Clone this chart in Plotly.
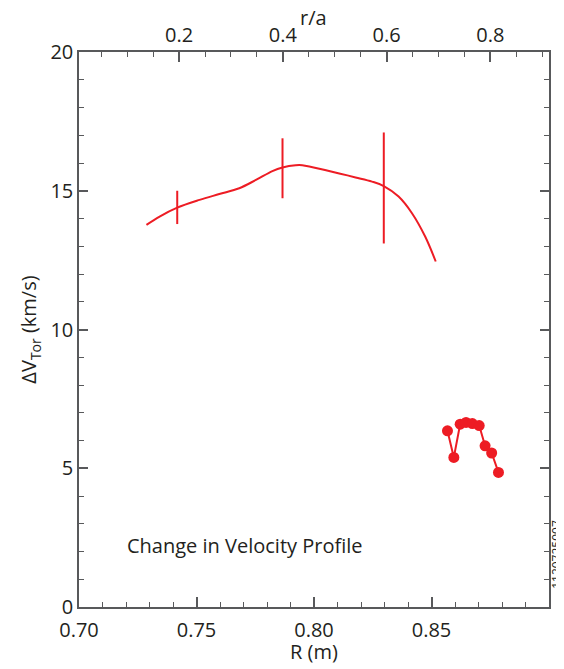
import plotly.graph_objects as go

# change in toroidal velocity profile (smooth curve)
r_curve = [0.7287, 0.7343, 0.7418, 0.7513, 0.7597, 0.7682, 0.7753, 0.7823, 0.7866,
           0.7922, 0.7950, 0.8064, 0.8177, 0.8247, 0.8297, 0.8360, 0.8417, 0.8473, 0.8518]
v_curve = [13.77, 14.07, 14.39, 14.67, 14.88, 15.09, 15.39, 15.71, 15.84,
           15.92, 15.92, 15.71, 15.48, 15.33, 15.17, 14.79, 14.19, 13.35, 12.45]

# error bars on the curve
r_err = [0.7418, 0.7866, 0.8297]
v_err = [14.40, 15.81, 15.10]
dv_err = [0.60, 1.08, 2.0]

# edge points
r_pts = [0.8568, 0.8595, 0.8622, 0.8647, 0.8674, 0.8703, 0.8728, 0.8756, 0.8785]
v_pts = [6.35, 5.39, 6.59, 6.65, 6.61, 6.54, 5.81, 5.55, 4.85]

# r/a axis on top
ra_range = [0.0071, 0.913]
ra_ticks = [0.2, 0.4, 0.6, 0.8]

RED = "#ed1c24"
INK = "#231f20"
AXC = "#58595b"
FONT = "Open Sans"

fig = go.Figure()

fig.add_trace(go.Scatter(x=r_curve, y=v_curve, mode="lines",
                         line=dict(color=RED, width=2, shape="spline"),
                         showlegend=False))
fig.add_trace(go.Scatter(x=r_err, y=v_err, mode="markers",
                         marker=dict(size=1, color=RED, opacity=0),
                         error_y=dict(type="data", array=dv_err, visible=True,
                                      color=RED, thickness=2, width=0),
                         showlegend=False))
fig.add_trace(go.Scatter(x=r_pts, y=v_pts, mode="lines+markers",
                         line=dict(color=RED, width=2),
                         marker=dict(color=RED, size=11),
                         showlegend=False))
# dummy trace so the top axis is drawn
fig.add_trace(go.Scatter(x=[None], y=[None], xaxis="x2", showlegend=False))

tick_font = dict(family=FONT, size=20, color=INK)
title_font = dict(family=FONT, size=20, color=INK)

# page body adds an 8px margin, so the figure is sized a bit smaller
fig.update_layout(
    width=556, height=661,
    margin=dict(l=71, r=15, t=44, b=62),
    plot_bgcolor="white", paper_bgcolor="white",
    font=dict(family=FONT, color=INK),
    xaxis=dict(range=[0.70, 0.90], dtick=0.05, tick0=0.70, tickformat=".2f",
               ticks="inside", ticklen=10, tickwidth=1.5, tickcolor=AXC,
               minor=dict(dtick=0.01, ticks="inside", ticklen=5, tickcolor=AXC, tickwidth=1.2),
               showline=True, linecolor=AXC, linewidth=1.5, showgrid=False, zeroline=False,
               tickfont=tick_font, automargin=False, ticklabelstandoff=4),
    xaxis2=dict(overlaying="x", side="top", range=ra_range, tickvals=ra_ticks,
                ticktext=[f"{t:.1f}" for t in ra_ticks],
                ticks="inside", ticklen=10, tickwidth=1.5, tickcolor=AXC,
                minor=dict(dtick=0.05, tick0=0, ticks="inside", ticklen=5, tickcolor=AXC, tickwidth=1.2),
                showline=True, linecolor=AXC, linewidth=1.5, showgrid=False, zeroline=False,
                tickfont=tick_font, automargin=False),
    yaxis=dict(range=[0, 20], dtick=5, ticks="inside", ticklen=9, tickwidth=1.5, tickcolor=AXC,
               minor=dict(dtick=1, ticks="inside", ticklen=5, tickcolor=AXC, tickwidth=1.2),
               showline=True, linecolor=AXC, linewidth=1.5, mirror="ticks",
               showgrid=False, zeroline=False, tickfont=tick_font, automargin=False,
               title=dict(text="ΔV<sub>Tor</sub> (km/s)", font=title_font, standoff=8)),
    annotations=[
        dict(text="R (m)", x=0.5, y=-0.0793, xref="paper", yref="paper",
             xanchor="center", yanchor="middle", showarrow=False, font=title_font),
        dict(text="r/a", x=0.498, y=1.0613, xref="paper", yref="paper",
             xanchor="center", yanchor="middle", showarrow=False, font=title_font),
        dict(text="Change in Velocity Profile", x=0.7195, y=2.2, xref="x", yref="y",
             xanchor="left", yanchor="middle", showarrow=False,
             font=dict(family=FONT, size=20, color=INK)),
        dict(text="1120725007", x=1.0, y=0.094, xref="paper", yref="paper",
             xanchor="center", yanchor="middle", xshift=8, textangle=-90, showarrow=False,
             font=dict(family=FONT, size=12, color=INK)),
    ],
)

fig.write_html("out.html")
